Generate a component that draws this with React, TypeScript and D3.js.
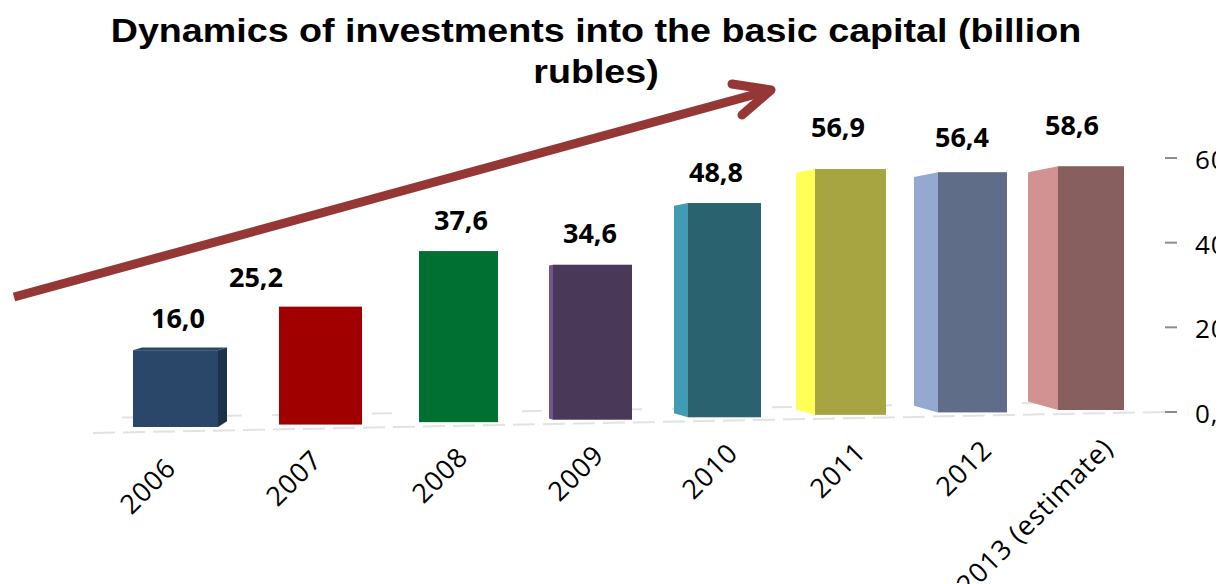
import React from "react";
import * as d3 from "d3";

const categories = ["2006", "2007", "2008", "2009", "2010", "2011", "2012", "2013 (estimate)"];
const values = [16.0, 25.2, 37.6, 34.6, 48.8, 56.9, 56.4, 58.6];
const axisTicks = [0, 20, 40, 60];
const frontColors = ["#2c4769", "#a00000", "#007033", "#4a3859", "#296270", "#a6a542", "#5f6d88", "#885e5e"];
const sideColors = ["#1f3349", "#a00000", "#007033", "#6f5590", "#3f9bb3", "#ffff55", "#95a9d0", "#d29292"];

// perspective layout of the pseudo-3D scene
const idx = categories.map((_, i) => i);
const centerX = d3.scaleLinear().domain(idx).range([175.5, 320.5, 458.5, 592.5, 724.5, 850.5, 972.5, 1091]);
const barW = d3.scaleLinear().domain(idx).range([85, 83, 79, 79, 73, 71, 69, 66]);
const sideW = d3.scaleLinear().domain(idx).range([9, 0, 0, -4, -14, -19, -24, -30]);
const baseY = d3.scaleLinear().domain([0, 7]).range([427, 410]);
const unitPx = d3.scaleLinear().domain(idx).range([4.8, 4.68, 4.55, 4.48, 4.39, 4.32, 4.26, 4.16]);
const axisY = d3.scaleLinear().domain([0, 60]).range([412, 158]);
const labelDX = [2.5, -64.5, 2.5, -2.5, -8.5, -12.5, -10.5, -19];
const labelDY = [-22, -20, -21, -21.5, -21, -32, -25, -31];
const catEndX = [172, 318, 464, 600, 734, 862, 988, 1109];
const catEndY = [464, 456, 453, 451, 449, 448, 446, 444];

const fmt = (v: number) => v.toFixed(1).replace(".", ",");
const body = "'Open Sans', 'Noto Sans', sans-serif";

export default function App() {
  const line = d3.line();
  return (
    <svg width={1221} height={584} viewBox="0 0 1221 584"
      style={{ position: "absolute", left: 0, top: 0, background: "#fff", display: "block" }}>
      <defs>
        <filter id="soft" x="-5%" y="-5%" width="110%" height="110%">
          <feGaussianBlur stdDeviation="0.6" />
        </filter>
        <clipPath id="pageEdge">
          <rect x={0} y={0} width={1216} height={584} />
        </clipPath>
      </defs>
      <g transform="translate(596,0) scale(1.124,1)">
        <text textAnchor="middle" fontFamily="'Liberation Sans', Arial, sans-serif" fontWeight="bold" fontSize={33.5} fill="#000">
          <tspan x={0} y={42}>Dynamics of investments into the basic capital (billion</tspan>
          <tspan x={0} y={83}>rubles)</tspan>
        </text>
      </g>

      {/* floor gridlines */}
      <g stroke="#e2e2e2" strokeWidth={2} fill="none">
        <path d={line([[122, 417.5], [1040, 403]]) as string} strokeDasharray="20 30" />
        <path d={line([[93, 433], [1165, 412]]) as string} strokeDasharray="22 8" />
      </g>

      {/* value axis */}
      <g fontFamily={body} fontSize={26} fill="#000" clipPath="url(#pageEdge)">
        {axisTicks.map((t) => (
          <g key={t}>
            <line x1={1165} x2={1177} y1={axisY(t)} y2={axisY(t)} stroke="#8c8c8c" strokeWidth={2} />
            <text x={1195} y={axisY(t) + 11} letterSpacing={0.8}>{fmt(t)}</text>
          </g>
        ))}
      </g>

      {/* bars */}
      <g filter="url(#soft)">
        {values.map((v, i) => {
          const w = barW(i), cx = centerX(i), s = sideW(i);
          const y1 = baseY(i), y0 = y1 - v * unitPx(i);
          const l = cx - w / 2, r = cx + w / 2;
          const edge = s > 0 ? r : l;
          const top = Math.abs(s) * (s > 0 ? -0.3 : 0.2);
          const bot = Math.abs(s) * (s > 0 ? -0.65 : -0.28);
          const side = line([[edge, y0], [edge + s, y0 + top], [edge + s, y1 + bot], [edge, y1]]) as string;
          return (
            <g key={categories[i]}>
              {s !== 0 && <path d={side} fill={sideColors[i]} />}
              {s > 0 && (
                <path d={line([[l, y0], [l + s, y0 + top], [r + s, y0 + top], [r, y0]]) as string} fill={frontColors[i]} />
              )}
              <rect x={l} y={y0} width={w} height={y1 - y0} fill={frontColors[i]} />
            </g>
          );
        })}
      </g>

      {/* value labels */}
      <g fontFamily={body} fontWeight="bold" fontSize={27} fill="#000" textAnchor="middle">
        {values.map((v, i) => (
          <text key={categories[i]} x={centerX(i) + labelDX[i]} y={baseY(i) - v * unitPx(i) + labelDY[i]}>{fmt(v)}</text>
        ))}
      </g>

      {/* category labels */}
      <g fontFamily={body} fontSize={27} letterSpacing={0.9} fill="#000" textAnchor="end">
        {categories.map((c, i) => (
          <text key={c} transform={`translate(${catEndX[i]},${catEndY[i]}) rotate(-45)`} x={0} y={8}>{c}</text>
        ))}
      </g>

      {/* trend arrow */}
      <g stroke="#953735" fill="none" strokeWidth={9}>
        <path d={line([[14, 297], [771, 90]]) as string} />
        <path d={line([[732, 84], [771, 90], [742, 115]]) as string} strokeLinecap="round" strokeLinejoin="round" />
      </g>
    </svg>
  );
}
